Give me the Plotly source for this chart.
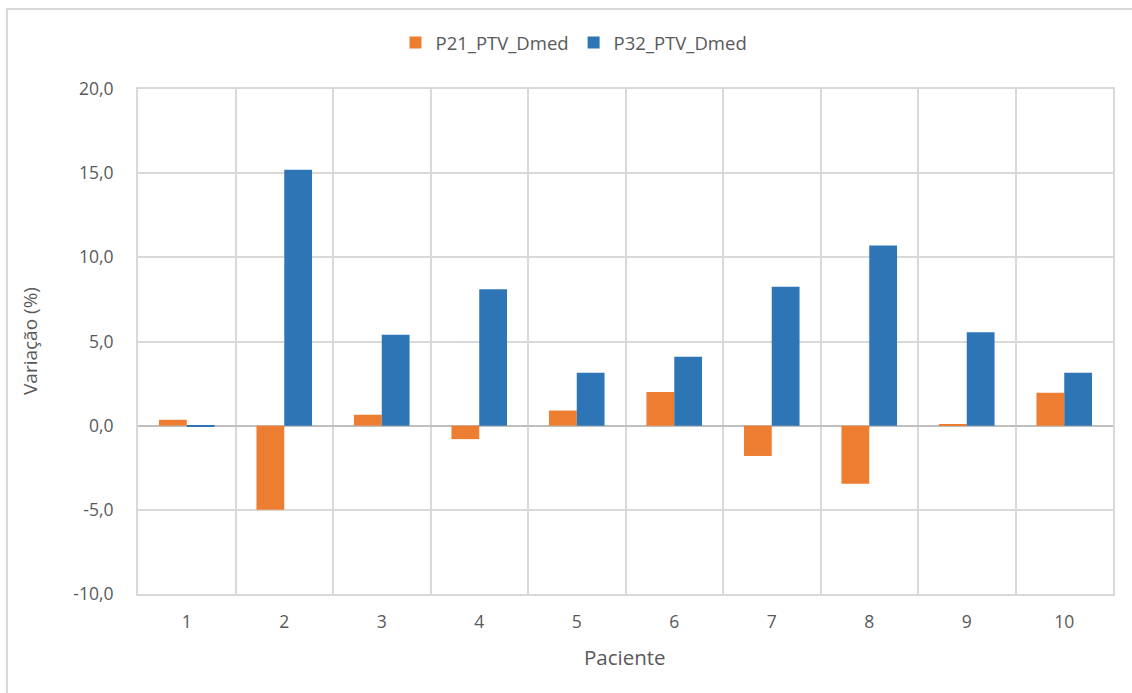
import plotly.graph_objects as go

pacientes = ["1", "2", "3", "4", "5", "6", "7", "8", "9", "10"]
p21_ptv_dmed = [0.35, -5.0, 0.65, -0.8, 0.9, 2.0, -1.8, -3.45, 0.1, 1.95]
p32_ptv_dmed = [-0.05, 15.2, 5.4, 8.1, 3.15, 4.1, 8.25, 10.7, 5.55, 3.15]
y_ticks = [-10, -5, 0, 5, 10, 15, 20]
y_tick_labels = ["-10,0", "-5,0", "0,0", "5,0", "10,0", "15,0", "20,0"]

W, H = 1132, 693
L, R, T, B = 138, 1113, 89, 594
pw, ph = R - L, B - T

font = "Open Sans"
grey = "#595959"
grid = "#d9d9d9"

fig = go.Figure()
fig.add_trace(go.Bar(x=pacientes, y=p21_ptv_dmed, name="P21_PTV_Dmed",
                     marker=dict(color="#ED7D31", line=dict(width=0))))
fig.add_trace(go.Bar(x=pacientes, y=p32_ptv_dmed, name="P32_PTV_Dmed",
                     marker=dict(color="#2E75B6", line=dict(width=0))))

fig.update_layout(
    width=W, height=H,
    margin=dict(l=L, r=W - R, t=T, b=H - B),
    paper_bgcolor="white", plot_bgcolor="white",
    barmode="group", bargap=0.43, bargroupgap=0,
    font=dict(family=font, size=17.5, color=grey),
    showlegend=True,
    legend=dict(orientation="h", x=(574 - L) / pw, xanchor="center",
                y=1 + (T - 43) / ph, yanchor="middle",
                font=dict(size=18.5, color=grey), itemwidth=30,
                traceorder="normal"),
    xaxis=dict(type="category", tickson="boundaries", showgrid=True,
               gridcolor=grid, gridwidth=2, showline=True, linecolor=grid,
               linewidth=2, mirror=True, ticks="", ticklabelstandoff=11,
               tickfont=dict(size=17.5, color=grey)),
    yaxis=dict(range=[-10, 20], tickvals=y_ticks, ticktext=y_tick_labels,
               showgrid=True, gridcolor=grid, gridwidth=2,
               showline=True, linecolor=grid, linewidth=2, mirror=True,
               zeroline=True, zerolinecolor="#bfbfbf", zerolinewidth=2,
               ticks="", ticklabelstandoff=19,
               tickfont=dict(size=17.5, color=grey)),
    shapes=[dict(type="rect", xref="paper", yref="paper",
                 x0=(7 - L) / pw, x1=(1145 - L) / pw,
                 y0=-(705 - B) / ph, y1=1 + (T - 9) / ph,
                 line=dict(color=grid, width=2), fillcolor="rgba(0,0,0,0)",
                 layer="below")],
    annotations=[
        dict(text="Variação (%)", xref="paper", yref="paper",
             x=(30 - L) / pw, y=(B - 341) / ph, textangle=-90,
             showarrow=False, xanchor="center", yanchor="middle",
             font=dict(size=19, color=grey)),
        dict(text="Paciente", xref="paper", yref="paper",
             x=(625 - L) / pw, y=-(657 - B) / ph, showarrow=False,
             xanchor="center", yanchor="middle",
             font=dict(size=20.5, color=grey)),
    ],
)

fig.write_html("out.html")
